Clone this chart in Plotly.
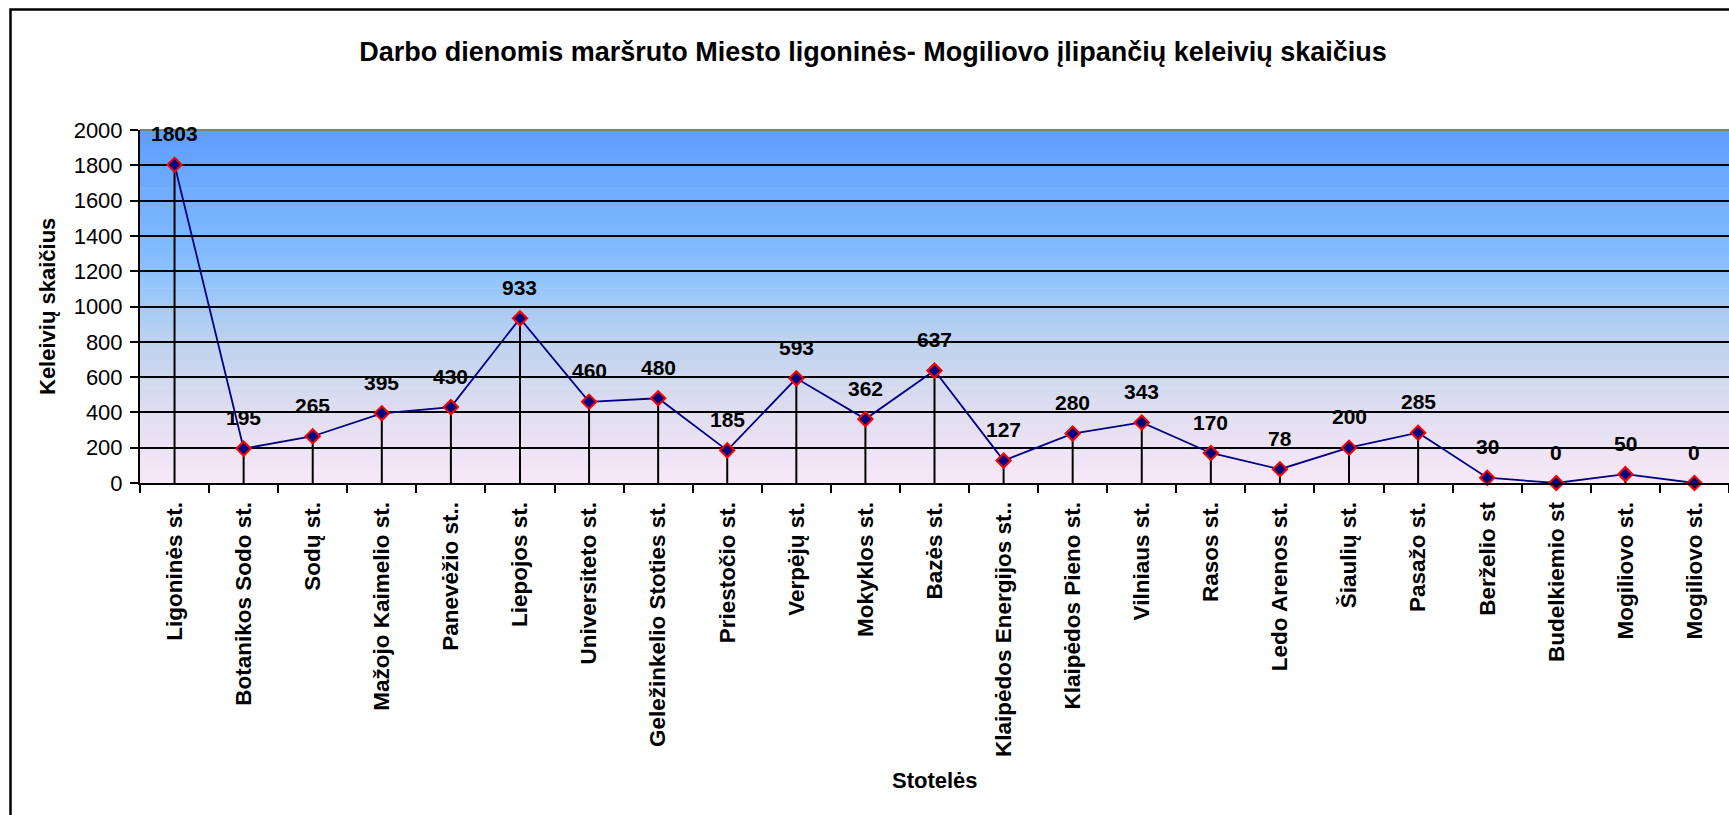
import plotly.graph_objects as go

stops = ["Ligoninės st.", "Botanikos Sodo st.", "Sodų st.", "Mažojo Kaimelio st.",
         "Panevėžio st..", "Liepojos st.", "Universiteto st.", "Geležinkelio Stoties st.",
         "Priestočio st.", "Verpėjų st.", "Mokyklos st.", "Bazės st.",
         "Klaipėdos Energijos st..", "Klaipėdos Pieno st.", "Vilniaus st.", "Rasos st.",
         "Ledo Arenos st.", "Šiaulių st.", "Pasažo st.", "Berželio st", "Budelkiemio st",
         "Mogiliovo st.", "Mogiliovo st."]
passengers = [1803, 195, 265, 395, 430, 933, 460, 480, 185, 593, 362, 637,
              127, 280, 343, 170, 78, 200, 285, 30, 0, 50, 0]
y_ticks = [0, 200, 400, 600, 800, 1000, 1200, 1400, 1600, 1800, 2000]

title_text = "Darbo dienomis maršruto Miesto ligoninės- Mogiliovo įlipančių keleivių skaičius"
x_title = "Stotelės"
y_title = "Keleivių skaičius"

FONT = "Liberation Sans, Arial, sans-serif"
W, H = 1729, 815
ML, MR, MT, MB = 140, 0, 130, 332
pw = W - ML - MR
ph = H - MT - MB

def px_to_paper_x(px):
    return (px - ML) / pw

def px_to_paper_y(py):
    return 1 - (py - MT) / ph

xs = list(range(len(stops)))

fig = go.Figure()
fig.add_trace(go.Scatter(
    x=xs, y=passengers, mode="lines+markers",
    line=dict(color="#000080", width=1.8),
    marker=dict(symbol="diamond", size=11, color="#000080",
                line=dict(color="#FF0000", width=2)),
    error_y=dict(type="data", symmetric=False, array=[0] * len(passengers),
                 arrayminus=passengers, color="black", thickness=2, width=0),
    cliponaxis=False, showlegend=False, hoverinfo="x+y",
))

# data labels
annotations = []
for x, v in zip(xs, passengers):
    annotations.append(dict(x=x, y=v, xref="x", yref="y", text=f"<b>{v}</b>",
                            showarrow=False, yshift=31,
                            font=dict(family=FONT, size=21, color="black")))
# axis titles
annotations.append(dict(xref="paper", yref="paper", x=px_to_paper_x(47),
                        y=px_to_paper_y(307), text=f"<b>{y_title}</b>", textangle=-90,
                        showarrow=False, xanchor="center", yanchor="middle",
                        font=dict(family=FONT, size=22, color="black")))
annotations.append(dict(xref="paper", yref="paper", x=px_to_paper_x(935),
                        y=px_to_paper_y(780), text=f"<b>{x_title}</b>",
                        showarrow=False, xanchor="center", yanchor="middle",
                        font=dict(family=FONT, size=22, color="black")))

# gradient background (bands)
def lerp(a, b, t):
    return tuple(a[i] + (b[i] - a[i]) * t for i in range(3))

grad = [(0.0, (248, 232, 248)), (0.2, (224, 222, 240)), (0.4, (190, 210, 238)),
        (0.55, (152, 198, 250)), (0.65, (130, 188, 255)), (1.0, (94, 157, 255))]

def color_at(f):
    for (f0, c0), (f1, c1) in zip(grad[:-1], grad[1:]):
        if f0 <= f <= f1:
            return lerp(c0, c1, (f - f0) / (f1 - f0))
    return grad[-1][1]

shapes = []
N = 120
for i in range(N):
    f0, f1 = i / N, (i + 1) / N
    c = color_at((f0 + f1) / 2)
    shapes.append(dict(type="rect", xref="x domain", yref="y domain",
                       x0=0, x1=1, y0=f0, y1=f1 + 0.002, layer="below",
                       line=dict(width=0),
                       fillcolor="rgb(%d,%d,%d)" % tuple(round(v) for v in c)))
# top gray border of plot area
shapes.append(dict(type="line", xref="x domain", yref="y domain", x0=0, x1=1,
                   y0=1, y1=1, line=dict(color="#808080", width=2)))
# outer chart border
shapes.append(dict(type="rect", xref="paper", yref="paper",
                   x0=px_to_paper_x(10.5), x1=px_to_paper_x(W + 20),
                   y0=px_to_paper_y(H + 20), y1=px_to_paper_y(9.5),
                   line=dict(color="black", width=2.5), fillcolor="rgba(0,0,0,0)"))

fig.update_layout(
    width=W, height=H,
    margin=dict(l=ML, r=MR, t=MT, b=MB, autoexpand=False),
    paper_bgcolor="white", plot_bgcolor="rgba(0,0,0,0)",
    font=dict(family=FONT, color="black"),
    title=dict(text=f"<b>{title_text}</b>", xref="container", yref="container",
               x=873 / W, xanchor="center", y=1 - 52 / H, yanchor="middle",
               font=dict(family=FONT, size=27, color="black")),
    shapes=shapes, annotations=annotations,
    hovermode="closest",
)
fig.update_xaxes(
    range=[-0.5, len(stops) - 0.5],
    tickmode="array", tickvals=xs, ticktext=[f"<b>{s}</b>" for s in stops],
    tickangle=-90, ticks="", tickfont=dict(family=FONT, size=22.5, color="black"),
    ticklabelstandoff=8,
    showgrid=False, zeroline=False, showline=True, linecolor="black", linewidth=2,
    minor=dict(tick0=0.5, dtick=1, ticks="outside", ticklen=8, tickwidth=1.5,
               tickcolor="black", showgrid=False),
    automargin=False,
)
fig.update_yaxes(
    range=[0, 2000], tickmode="array", tickvals=y_ticks,
    ticks="outside", ticklen=8, tickwidth=1.5, tickcolor="black",
    tickfont=dict(family=FONT, size=22, color="black"),
    ticklabelstandoff=3,
    showgrid=True, gridcolor="black", gridwidth=1.5,
    zeroline=False, showline=True, linecolor="black", linewidth=2,
    automargin=False,
)

fig.write_html("out.html", config={"displayModeBar": False},
               post_script="document.body.style.margin='0';document.body.style.overflow='hidden';")
